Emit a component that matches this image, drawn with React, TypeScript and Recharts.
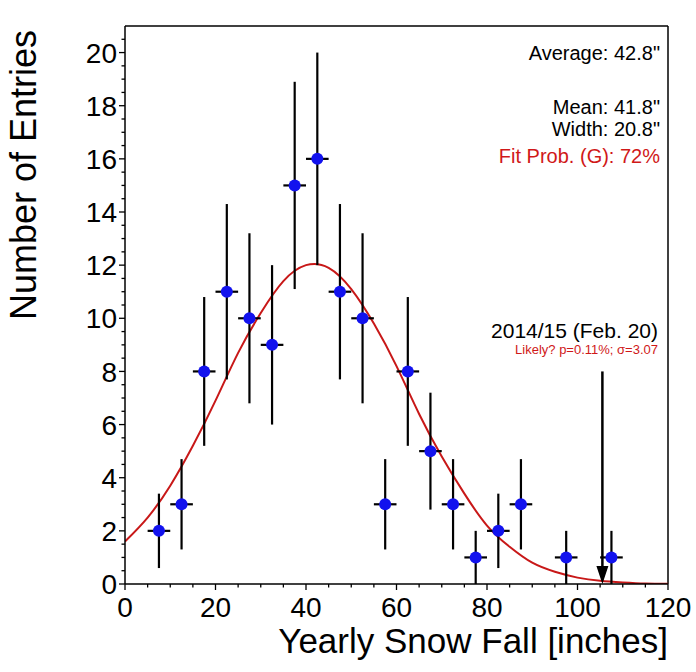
import { ComposedChart, Line, Scatter, XAxis, YAxis, ErrorBar, ReferenceLine, ReferenceDot } from 'recharts';

// histogram bins (inches) and entries per bin
const binCenters = [7.5, 12.5, 17.5, 22.5, 27.5, 32.5, 37.5, 42.5, 47.5, 52.5, 57.5, 62.5, 67.5, 72.5, 77.5, 82.5, 87.5, 97.5, 107.5];
const entries = [2, 3, 8, 11, 10, 9, 15, 16, 11, 10, 3, 8, 5, 3, 1, 2, 3, 1, 1];
const entryErrors = [1.4, 1.7, 2.8, 3.3, 3.2, 3.0, 3.9, 4.0, 3.3, 3.2, 1.7, 2.8, 2.2, 1.7, 1.0, 1.4, 1.7, 1.0, 1.0];
const binHalfWidth = 2.5;

// gaussian fit curve
const fitX = [0, 5, 10, 15, 20, 25, 30, 35, 40, 45, 50, 55, 60, 65, 70, 75, 80, 85, 90, 95, 100, 105, 110, 115, 120];
const fitY = [1.6, 2.5, 3.7, 5.2, 6.9, 8.7, 10.2, 11.4, 12.0, 11.9, 11.1, 9.8, 8.2, 6.4, 4.8, 3.4, 2.2, 1.4, 0.8, 0.46, 0.24, 0.12, 0.06, 0.02, 0.01];

// 2014/15 season marker
const seasonX = 105.5;
const seasonTop = 8;

const xMajorTicks = [0, 20, 40, 60, 80, 100, 120];
const yMajorTicks = [0, 2, 4, 6, 8, 10, 12, 14, 16, 18, 20];
const xTicks = Array.from({ length: 25 }, (_, i) => i * 5);
const yTicks = Array.from({ length: 42 }, (_, i) => i * 0.5);

const points = binCenters.map((x, i) => ({ x, y: entries[i], ey: entryErrors[i], ex: binHalfWidth }));
const fit = fitX.map((x, i) => ({ x, y: fitY[i] }));

const FONT = 'Arial, "Liberation Sans", sans-serif';

const XTick = (props: any) => {
  const { x, y, payload } = props;
  const major = xMajorTicks.includes(payload.value);
  return (
    <g>
      <line x1={x} x2={x} y1={y} y2={y + (major ? 6 : 3.5)} stroke="#000" strokeWidth={1.3} />
      {major && (
        <text x={x} y={y + 33} textAnchor="middle" fontSize={28} fontFamily={FONT} fill="#000">
          {payload.value}
        </text>
      )}
    </g>
  );
};

const YTick = (props: any) => {
  const { x, y, payload } = props;
  const major = yMajorTicks.includes(payload.value);
  return (
    <g>
      <line x1={x - (major ? 6 : 3.5)} x2={x} y1={y} y2={y} stroke="#000" strokeWidth={1.3} />
      {major && (
        <text x={x - 8} y={y} dy="0.36em" textAnchor="end" fontSize={28} fontFamily={FONT} fill="#000">
          {payload.value}
        </text>
      )}
    </g>
  );
};

const Dot = (props: any) => <circle cx={props.cx} cy={props.cy} r={6} fill="#1212ee" />;

const ArrowHead = (props: any) => {
  const { cx, cy } = props;
  return <path d={`M${cx - 6},${cy - 18} L${cx + 6},${cy - 18} L${cx},${cy} Z`} fill="#000" />;
};

export default function App() {
  return (
    <div style={{ position: 'absolute', left: 0, top: 0, width: 696, height: 672, background: '#fff' }}>
      <ComposedChart width={696} height={672} margin={{ top: 26, right: 28, bottom: 28, left: 25 }}>
        <XAxis
          dataKey="x"
          type="number"
          domain={[0, 120]}
          ticks={xTicks}
          interval={0}
          tickSize={0}
          tickMargin={0}
          tick={<XTick />}
          height={60}
          stroke="#000"
          strokeWidth={1.5}
          allowDataOverflow
        />
        <YAxis
          type="number"
          domain={[0, 21]}
          ticks={yTicks}
          interval={0}
          tickSize={0}
          tickMargin={0}
          tick={<YTick />}
          width={100}
          stroke="#000"
          strokeWidth={1.5}
          allowDataOverflow
        />
        <ReferenceLine y={21} stroke="#000" strokeWidth={1.5} />
        <ReferenceLine x={120} stroke="#000" strokeWidth={1.5} />
        <Line
          data={fit}
          dataKey="y"
          type="natural"
          stroke="#c81818"
          strokeWidth={2}
          dot={false}
          activeDot={false}
          isAnimationActive={false}
        />
        <ReferenceLine
          segment={[{ x: seasonX, y: seasonTop }, { x: seasonX, y: 0.6 }]}
          stroke="#000"
          strokeWidth={2.5}
        />
        <ReferenceDot x={seasonX} y={0} shape={<ArrowHead />} />
        <Scatter data={points} dataKey="y" shape={<Dot />} isAnimationActive={false}>
          <ErrorBar dataKey="ey" direction="y" width={0} stroke="#000" strokeWidth={2.2} isAnimationActive={false} />
          <ErrorBar dataKey="ex" direction="x" width={0} stroke="#000" strokeWidth={2.2} isAnimationActive={false} />
        </Scatter>
      </ComposedChart>
      <svg width={696} height={672} style={{ position: 'absolute', left: 0, top: 0, pointerEvents: 'none' }} fontFamily={FONT}>
        <text transform="translate(36,175) rotate(-90)" textAnchor="middle" fontSize={36} fill="#000">
          Number of Entries
        </text>
        <text x={668} y={653} textAnchor="end" fontSize={35} fill="#000">
          Yearly Snow Fall [inches]
        </text>
        <text x={660} y={60} textAnchor="end" fontSize={20} fill="#000">Average: 42.8"</text>
        <text x={660} y={114} textAnchor="end" fontSize={20} fill="#000">Mean: 41.8"</text>
        <text x={660} y={136} textAnchor="end" fontSize={20} fill="#000">Width: 20.8"</text>
        <text x={660} y={163} textAnchor="end" fontSize={20} fill="#d01818">Fit Prob. (G): 72%</text>
        <text x={658} y={338} textAnchor="end" fontSize={21} fill="#000">2014/15 (Feb. 20)</text>
        <text x={658} y={354} textAnchor="end" fontSize={13} fill="#d01818">Likely? p=0.11%; σ=3.07</text>
      </svg>
    </div>
  );
}
